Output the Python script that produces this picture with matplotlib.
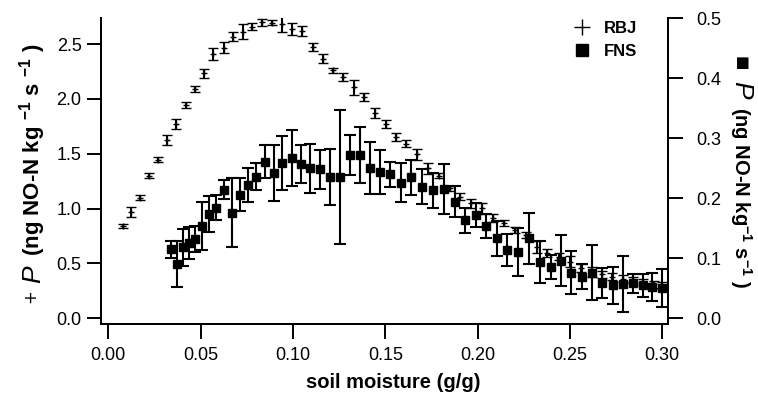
import matplotlib
matplotlib.use("Agg")
import matplotlib.pyplot as plt
from matplotlib.lines import Line2D

plt.rcParams["font.family"] = ["Liberation Sans", "DejaVu Sans"]
plt.rcParams["mathtext.fontset"] = "custom"
plt.rcParams["mathtext.rm"] = "Liberation Sans"
plt.rcParams["mathtext.it"] = "Liberation Sans:italic"
plt.rcParams["mathtext.bf"] = "Liberation Sans:bold"

# RBJ (left axis)
rbj_x = [0.0080, 0.0123, 0.0172, 0.0221, 0.0270, 0.0320, 0.0367, 0.0418, 0.0467, 0.0519,
         0.0569, 0.0624, 0.0675, 0.0727, 0.0780, 0.0834, 0.0888, 0.0940, 0.0996, 0.1050,
         0.1106, 0.1162, 0.1217, 0.1272, 0.1329, 0.1387, 0.1443, 0.1502, 0.1558, 0.1614,
         0.1670, 0.1730, 0.1790, 0.1848, 0.1907, 0.1965, 0.2025, 0.2085, 0.2142, 0.2200,
         0.2260, 0.2323, 0.2377, 0.2440, 0.2500, 0.2558, 0.2617, 0.2675, 0.2730, 0.2786,
         0.2842, 0.2898, 0.2955, 0.3000]
rbj_y = [0.84, 0.97, 1.10, 1.30, 1.446, 1.625, 1.768, 1.944, 2.093, 2.233,
         2.41, 2.467, 2.567, 2.61, 2.658, 2.698, 2.695, 2.683, 2.634, 2.62,
         2.476, 2.367, 2.26, 2.20, 2.106, 2.015, 1.874, 1.768, 1.65, 1.589,
         1.495, 1.367, 1.30, 1.185, 1.108, 1.048, 1.003, 0.917, 0.866, 0.805,
         0.759, 0.647, 0.593, 0.562, 0.516, 0.456, 0.425, 0.40, 0.38, 0.36,
         0.35, 0.33, 0.31, 0.30]
rbj_err = [0.021, 0.045, 0.022, 0.024, 0.022, 0.047, 0.044, 0.026, 0.026, 0.04,
           0.053, 0.049, 0.038, 0.068, 0.03, 0.03, 0.02, 0.07, 0.053, 0.044,
           0.036, 0.04, 0.02, 0.033, 0.068, 0.038, 0.045, 0.035, 0.038, 0.032,
           0.05, 0.05, 0.023, 0.023, 0.03, 0.04, 0.048, 0.035, 0.027, 0.03,
           0.023, 0.053, 0.035, 0.03, 0.048, 0.035, 0.045, 0.03, 0.03, 0.03,
           0.03, 0.03, 0.03, 0.03]

# FNS (right axis)
fns_x = [0.0338, 0.0371, 0.0403, 0.0436, 0.0469, 0.0508, 0.0546, 0.0584, 0.0627, 0.0669,
         0.0714, 0.0758, 0.0801, 0.0848, 0.0895, 0.0942, 0.0996, 0.1043, 0.1094, 0.1144,
         0.1202, 0.1256, 0.1307, 0.1361, 0.1419, 0.1473, 0.1527, 0.1586, 0.1640, 0.1700,
         0.1759, 0.1817, 0.1875, 0.1931, 0.1989, 0.2047, 0.2106, 0.2161, 0.2220, 0.2280,
         0.2336, 0.2395, 0.2450, 0.2508, 0.2564, 0.2621, 0.2675, 0.2733, 0.2787, 0.2841,
         0.2896, 0.2947, 0.2997]
fns_y = [0.115, 0.090, 0.118, 0.125, 0.132, 0.154, 0.173, 0.184, 0.214, 0.176,
         0.206, 0.222, 0.236, 0.261, 0.242, 0.258, 0.267, 0.257, 0.250, 0.248,
         0.235, 0.235, 0.272, 0.272, 0.250, 0.244, 0.240, 0.226, 0.235, 0.219,
         0.213, 0.215, 0.194, 0.163, 0.172, 0.154, 0.133, 0.114, 0.111, 0.133,
         0.093, 0.086, 0.096, 0.076, 0.069, 0.076, 0.059, 0.055, 0.057, 0.058,
         0.055, 0.052, 0.050]
fns_err = [0.014, 0.038, 0.031, 0.027, 0.022, 0.040, 0.030, 0.021, 0.016, 0.058,
           0.028, 0.029, 0.023, 0.028, 0.046, 0.045, 0.047, 0.032, 0.041, 0.032,
           0.047, 0.112, 0.034, 0.047, 0.043, 0.037, 0.021, 0.033, 0.029, 0.029,
           0.029, 0.042, 0.026, 0.021, 0.020, 0.020, 0.029, 0.027, 0.040, 0.043,
           0.035, 0.020, 0.043, 0.036, 0.021, 0.046, 0.025, 0.031, 0.046, 0.016,
           0.019, 0.024, 0.032]

x_ticks = [0.00, 0.05, 0.10, 0.15, 0.20, 0.25, 0.30]
left_ticks = [0.0, 0.5, 1.0, 1.5, 2.0, 2.5]
right_ticks = [0.0, 0.1, 0.2, 0.3, 0.4, 0.5]

fig = plt.figure(figsize=(7.58, 3.94), dpi=100)
ax = fig.add_axes([0.1332, 0.1777, 0.748, 0.7766])
ax2 = ax.twinx()

ax.errorbar(rbj_x, rbj_y, yerr=rbj_err, fmt="+", color="k", ms=5, mew=1,
            elinewidth=1.5, capsize=3.6, capthick=1.5)
ax2.errorbar(fns_x, fns_y, yerr=fns_err, fmt="s", color="k", ms=5.8,
             elinewidth=1.5, capsize=4, capthick=1.5)

ax.set_xlim(-0.004, 0.3031)
ax.set_ylim(-0.052, 2.737)
ax2.set_ylim(-0.0095, 0.5005)
ax.set_xticks(x_ticks)
ax.set_xticklabels(["%.2f" % v for v in x_ticks])
ax.set_yticks(left_ticks)
ax.set_yticklabels(["%.1f" % v for v in left_ticks])
ax2.set_yticks(right_ticks)
ax2.set_yticklabels(["%.1f" % v for v in right_ticks])

for a in (ax, ax2):
    a.spines["top"].set_visible(False)
    for s in ("left", "right", "bottom"):
        a.spines[s].set_linewidth(1.4)
ax.tick_params(axis="x", direction="out", length=10.5, width=1.4, pad=6, labelsize=13)
ax.tick_params(axis="y", direction="out", length=10, width=1.4, pad=4, labelsize=13)
ax2.tick_params(axis="y", direction="out", length=10.5, width=1.4, pad=10, labelsize=13)

ax.set_xlabel("soil moisture (g/g)", fontsize=14.5, fontweight="bold")
ax.xaxis.set_label_coords(0.516, -0.16)

# y labels built from pieces
unit_l = r"(ng NO-N kg $^{\mathbf{-1}}$ s $^{\mathbf{-1}}$ )"
unit_r = r"(ng NO-N kg$^{\mathbf{-1}}$ s$^{\mathbf{-1}}$ )"
fig.text(30 / 758, 1 - 296 / 394, "+", rotation=90, ha="center", va="center",
         fontsize=12, family=["DejaVu Sans"])
fig.text(33 / 758, 1 - 283 / 394, "P", rotation=90, ha="center", va="bottom",
         fontsize=19, style="italic")
fig.text(33 / 758, 1 - 256 / 394, unit_l, rotation=90, ha="center", va="bottom",
         fontsize=16, fontweight="bold")

fig.text(741 / 758, 1 - 63 / 394, "\u25a0", rotation=-90, ha="center", va="center",
         fontsize=11, family=["DejaVu Sans"])
fig.text(741 / 758, 1 - 81 / 394, "P", rotation=-90, ha="center", va="top",
         fontsize=19, style="italic")
fig.text(741 / 758, 1 - 107 / 394, unit_r, rotation=-90, ha="center", va="top",
         fontsize=14.5, fontweight="bold")

handles = [Line2D([], [], ls="none", marker="+", color="k", ms=11, mew=1),
           Line2D([], [], ls="none", marker="s", color="k", ms=9)]
ax2.legend(handles, ["RBJ", "FNS"], loc="upper left", bbox_to_anchor=(564 / 758, 1 - 13 / 394),
           bbox_transform=fig.transFigure, frameon=False, handlelength=1.2,
           handletextpad=0.7, labelspacing=0.45, borderpad=0,
           prop={"weight": "bold", "size": 12})

fig.savefig("out.png", dpi=100)
